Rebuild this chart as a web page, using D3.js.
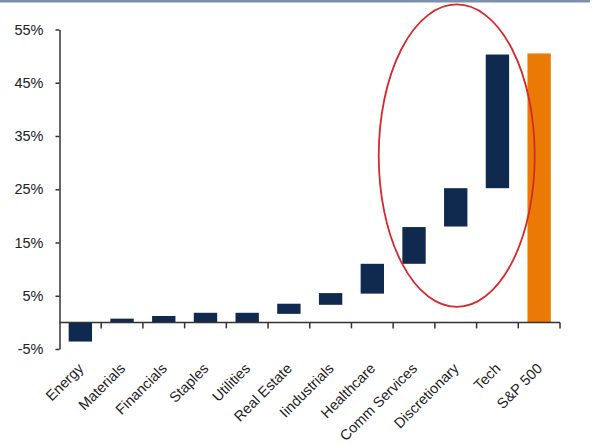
<!DOCTYPE html>
<html><head><meta charset="utf-8">
<script src="https://cdn.jsdelivr.net/npm/d3@7"></script>
<style>
html,body{margin:0;padding:0;background:#fff;}
svg{display:block;font-family:"Liberation Sans",Arial,sans-serif;}
</style></head>
<body><svg id="chart" width="598" height="445"></svg>
<script>
const categories = ["Energy","Materials","Financials","Staples","Utilities","Real Estate","Iindustrials","Healthcare","Comm Services","Discretionary","Tech","S&P 500"];
const barStart = [0, 0, 0, 0, 0, 1.6, 3.3, 5.4, 11.0, 18.0, 25.2, 0];
const barEnd   = [-3.6, 0.7, 1.2, 1.8, 1.8, 3.5, 5.5, 11.0, 17.9, 25.2, 50.3, 50.5];
const isTotal  = [false,false,false,false,false,false,false,false,false,false,false,true];
const yTicks = [-5, 5, 15, 25, 35, 45, 55];
const ellipseRange = [2.9, 59.7];

const svg = d3.select("#chart");
const x = d3.scaleBand().domain(categories).range([59.5, 560]).paddingInner(0.44).paddingOuter(0.22);
const y = d3.scaleLinear().domain([-5, 55]).range([349, 29.5]);

// top border line
svg.append("rect").attr("x",0).attr("y",0).attr("width",590).attr("height",2.5).attr("fill","#7d90ad");

// bars
svg.selectAll("rect.bar").data(categories).join("rect")
  .attr("class","bar")
  .attr("x", d => x(d))
  .attr("width", x.bandwidth())
  .attr("y", (d,i) => y(Math.max(barStart[i], barEnd[i])))
  .attr("height", (d,i) => Math.abs(y(barStart[i]) - y(barEnd[i])))
  .attr("fill", (d,i) => isTotal[i] ? "#ea7a05" : "#10294f");

// y axis
const yAxis = d3.axisLeft(y).tickValues(yTicks).tickFormat(d => d + "%").tickSize(4).tickSizeOuter(0).tickPadding(12);
const gy = svg.append("g").attr("transform","translate(59.5,0)").call(yAxis);
gy.select(".domain").attr("stroke","#333").attr("stroke-width",1.5);
gy.selectAll(".tick line").attr("stroke","#333").attr("stroke-width",1.5);
gy.selectAll(".tick text").attr("fill","#222").style("font-size","14.5px");

// x axis at zero
const x0 = y(0);
const gx = svg.append("g");
gx.append("line").attr("x1",59.5).attr("x2",560).attr("y1",x0).attr("y2",x0).attr("stroke","#333").attr("stroke-width",1.5);
gx.selectAll("line.tk").data(d3.range(1, categories.length + 1)).join("line")
  .attr("class","tk")
  .attr("x1", i => 59.5 + i * (500.5/categories.length))
  .attr("x2", i => 59.5 + i * (500.5/categories.length))
  .attr("y1", x0).attr("y2", x0 + 6)
  .attr("stroke","#333").attr("stroke-width",1.5);

// category labels
svg.selectAll("text.cat").data(categories).join("text")
  .attr("class","cat")
  .attr("transform", d => `translate(${x(d) + x.bandwidth()/2 + 4},${x0 + 47}) rotate(-45)`)
  .attr("text-anchor","end")
  .attr("fill","#222")
  .style("font-size","14.5px")
  .text(d => d);

// highlight ellipse
svg.append("ellipse")
  .attr("cx", (x("Comm Services") + x("Tech") + x.bandwidth()) / 2 + 1)
  .attr("cy", (y(ellipseRange[1]) + y(ellipseRange[0])) / 2)
  .attr("rx", 78).attr("ry", (y(ellipseRange[0]) - y(ellipseRange[1])) / 2)
  .attr("fill","none").attr("stroke","#d7282e").attr("stroke-width",1.8);
</script></body></html>
